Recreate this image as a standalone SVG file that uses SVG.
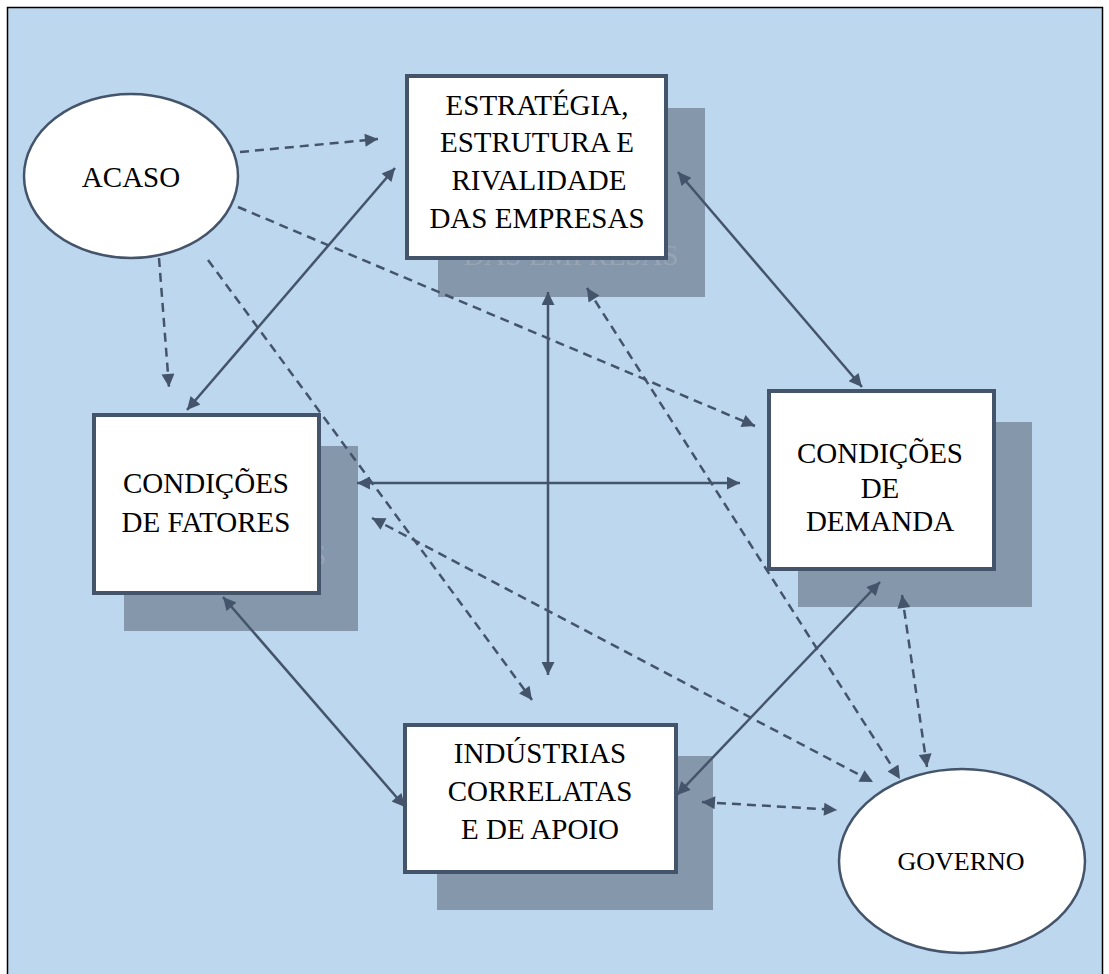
<svg xmlns="http://www.w3.org/2000/svg" width="1109" height="974" viewBox="0 0 1109 974">
<style>
.bg{fill:#bdd7ee;stroke:#000;stroke-width:1.5}
.shadow{fill:#8497ab}
.ghost{font-family:"Liberation Serif","Times New Roman",serif;font-size:29px;fill:#98a4b4;text-anchor:middle}
.box{fill:#fff;stroke:#44546a;stroke-width:4}
.ell{fill:#fff;stroke:#44546a;stroke-width:2.5}
.lbl{font-family:"Liberation Serif","Times New Roman",serif;font-size:29px;fill:#000;text-anchor:middle}
.solid{fill:none;stroke:#44546a;stroke-width:2.5}
.dash{fill:none;stroke:#44546a;stroke-width:2.5;stroke-dasharray:9 6}
</style>
<defs>
<marker id="ah" viewBox="0 0 10 10" refX="10" refY="5" markerWidth="15" markerHeight="13" markerUnits="userSpaceOnUse" orient="auto-start-reverse">
<path d="M0,0 L10,5 L0,10 z" fill="#44546a"/>
</marker>
</defs>
<rect class="bg" x="7.5" y="7.5" width="1095" height="980"/>

<g id="acaso">
<ellipse class="ell" cx="131" cy="176" rx="107" ry="82"/>
<text class="lbl" x="131" y="187">ACASO</text>
</g>

<g id="estrategia">
<rect class="shadow" x="438" y="108" width="267" height="189"/>
<text class="ghost" x="571" y="265">DAS EMPRESAS</text>
<rect class="box" x="407" y="76" width="259" height="182"/>
<text class="lbl" x="537" y="115">ESTRATÉGIA,</text>
<text class="lbl" x="537" y="152">ESTRUTURA E</text>
<text class="lbl" x="539" y="190">RIVALIDADE</text>
<text class="lbl" x="537" y="228">DAS EMPRESAS</text>
</g>

<g id="fatores">
<rect class="shadow" x="124" y="446" width="234" height="185"/>
<text class="ghost" x="242" y="565">DE FATORES</text>
<rect class="box" x="94" y="415" width="225" height="178"/>
<text class="lbl" x="206" y="493">CONDIÇÕES</text>
<text class="lbl" x="206" y="532">DE FATORES</text>
</g>

<g id="demanda">
<rect class="shadow" x="798" y="422" width="234" height="185"/>
<rect class="box" x="769" y="391" width="225" height="178"/>
<text class="lbl" x="880" y="463">CONDIÇÕES</text>
<text class="lbl" x="880" y="498">DE</text>
<text class="lbl" x="880" y="531">DEMANDA</text>
</g>

<g id="industrias">
<rect class="shadow" x="437" y="756" width="276" height="154"/>
<rect class="box" x="405" y="725" width="271" height="147"/>
<text class="lbl" x="540" y="763">INDÚSTRIAS</text>
<text class="lbl" x="540" y="801">CORRELATAS</text>
<text class="lbl" x="540" y="839">E DE APOIO</text>
</g>

<g id="governo">
<ellipse class="ell" cx="962" cy="861" rx="123" ry="92"/>
<text class="lbl" x="961" y="870" style="font-size:26px">GOVERNO</text>
</g>

<g id="connectors">
<line class="dash" x1="240" y1="152" x2="378" y2="139" marker-end="url(#ah)"/>
<line class="dash" x1="238" y1="207" x2="755" y2="426" marker-end="url(#ah)"/>
<line class="dash" x1="159" y1="258" x2="169" y2="387" marker-end="url(#ah)"/>
<line class="dash" x1="208" y1="260" x2="532" y2="700" marker-end="url(#ah)"/>
<line class="solid" x1="395" y1="168" x2="187" y2="410" marker-start="url(#ah)" marker-end="url(#ah)"/>
<line class="solid" x1="678" y1="172" x2="862" y2="387" marker-start="url(#ah)" marker-end="url(#ah)"/>
<line class="solid" x1="548" y1="292" x2="548" y2="675" marker-start="url(#ah)" marker-end="url(#ah)"/>
<line class="solid" x1="357" y1="483" x2="740" y2="483" marker-start="url(#ah)" marker-end="url(#ah)"/>
<line class="solid" x1="223" y1="597" x2="405" y2="807" marker-start="url(#ah)" marker-end="url(#ah)"/>
<line class="solid" x1="880" y1="582" x2="677" y2="795" marker-start="url(#ah)" marker-end="url(#ah)"/>
<line class="dash" x1="587" y1="288" x2="900" y2="779" marker-start="url(#ah)" marker-end="url(#ah)"/>
<line class="dash" x1="372" y1="518" x2="873" y2="782" marker-start="url(#ah)" marker-end="url(#ah)"/>
<line class="dash" x1="902" y1="595" x2="927" y2="767" marker-start="url(#ah)" marker-end="url(#ah)"/>
<line class="dash" x1="702" y1="802" x2="837" y2="810" marker-start="url(#ah)" marker-end="url(#ah)"/>
</g>
</svg>
